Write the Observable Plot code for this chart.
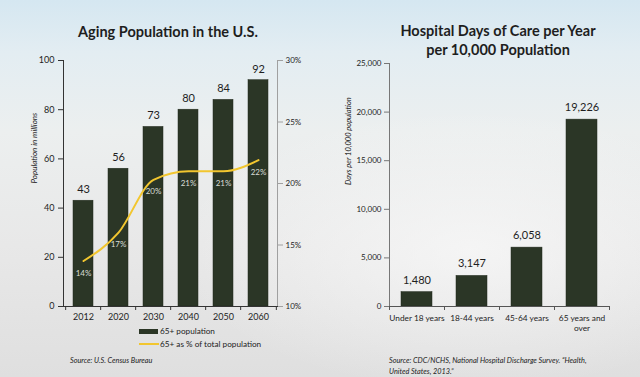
<!DOCTYPE html>
<html><head><meta charset="utf-8">
<script src="https://cdn.jsdelivr.net/npm/d3@7"></script>
<script src="https://cdn.jsdelivr.net/npm/@observablehq/plot@0.6"></script>
<style>
html,body{margin:0;padding:0;}
body{width:640px;height:377px;overflow:hidden;position:relative;font-family:Lato,"Open Sans",sans-serif;color:#1e1e1e;
background:
 radial-gradient(ellipse 420px 200px at 470px 250px, rgba(250,250,250,0.7), rgba(250,250,250,0) 70%),
 linear-gradient(180deg,#d5e7f1 0%,#e3edf2 14%,#ecefef 35%,#e8e8e8 65%,#dfdfdf 100%);}
.abs{position:absolute;}
.title{font-weight:700;font-size:14.5px;line-height:19px;text-align:center;white-space:nowrap;}
.src{font-style:italic;font-size:7.3px;line-height:11px;white-space:nowrap;color:#222;}
.leg{font-size:8.2px;line-height:12px;white-space:nowrap;color:#222;}
</style></head><body>
<div class="abs title" style="left:18px;width:300px;top:22px;">Aging Population in the U.S.</div>
<div class="abs title" style="left:348px;width:300px;top:21px;">Hospital Days of Care per Year<br>per 10,000 Population</div>
<div id="left" class="abs" style="left:0;top:50px;"></div>
<div id="right" class="abs" style="left:320px;top:50px;"></div>
<div class="abs" style="left:139px;top:329px;width:19px;height:5px;background:#2b3626;"></div>
<div class="abs leg" style="left:160px;top:325px;">65+ population</div>
<div class="abs" style="left:139px;top:343px;width:20px;height:2px;background:#f2c62f;"></div>
<div class="abs leg" style="left:160px;top:338px;">65+ as % of total population</div>
<div class="abs src" style="left:70px;top:355px;">Source: U.S. Census Bureau</div>
<div class="abs src" style="left:389px;top:355px;">Source: CDC/NCHS, National Hospital Discharge Survey. “Health,<br>United States, 2013.”</div>
<script>
const years = ["2012","2020","2030","2040","2050","2060"];
const population65 = [43,56,73,80,84,92];
const pct65 = [13.7,16.0,20.3,21.0,21.0,21.9];
const pctLabels = ["14%","17%","20%","21%","21%","22%"];
const popTicks = [0,20,40,60,80,100];
const pctTicks = [10,15,20,25,30];

const ageGroups = ["Under 18 years","18-44 years","45-64 years","65 years and over"];
const ageLabels = ["Under 18 years","18-44 years","45-64 years","65 years and\nover"];
const careDays = [1480,3147,6058,19226];
const careTicks = [0,5000,10000,15000,20000,25000];

const FONT = "Lato, 'Open Sans', sans-serif";
const pctToPop = p => (p - 10) * 5;   // 10%..30% mapped onto 0..100
const popToPct = v => v / 5 + 10;

const popData = years.map((y, i) => ({year: y, pop: population65[i], pct: pct65[i], label: pctLabels[i]}));
const careData = ageGroups.map((g, i) => ({group: g, days: careDays[i]}));

// Left chart
{
  const W = 320, H = 280, mL = 63, mR = 43, mT = 10, mB = 24;
  const step = (W - mL - mR) / years.length;
  const chart = Plot.plot({
    width: W, height: H, marginLeft: mL, marginRight: mR, marginTop: mT, marginBottom: mB,
    style: {background: "transparent", fontFamily: FONT, fontSize: "9px", color: "#222", overflow: "visible"},
    x: {domain: years, paddingInner: 0.44, paddingOuter: 0.22},
    y: {domain: [0, 100]},
    marks: [
      Plot.barY(popData, {x: "year", y: "pop", fill: "#2b3626", stroke: "#222b1e", strokeWidth: 0.5}),
      Plot.line(popData, {x: "year", y: d => pctToPop(d.pct), stroke: "#f2c62f", strokeWidth: 2, curve: "monotone-x"}),
      Plot.text(popData, {x: "year", y: "pop", text: d => String(d.pop), dy: -11, fontSize: 11, fill: "#1e1e1e"}),
      Plot.text(popData, {x: "year", y: d => pctToPop(d.pct), text: "label", dy: 12, fontSize: 8, fill: "#d9ddd5"}),
      Plot.frame({anchor: "left", stroke: "#333"}),
      Plot.frame({anchor: "right", stroke: "#a0a0a0"}),
      Plot.frame({anchor: "bottom", stroke: "#333"}),
      Plot.axisY({ticks: popTicks, tickSize: 5, tickPadding: 4, label: null, stroke: "#333", fill: "#1e1e1e"}),
      Plot.axisY({anchor: "right", ticks: pctTicks.map(pctToPop), tickFormat: d => popToPct(d) + "%",
                  tickSize: 5, tickPadding: 3, label: null, stroke: "#a0a0a0", fill: "#1e1e1e", fontSize: 8}),
      Plot.axisX({tickSize: 0, tickPadding: 7, label: null, fill: "#1e1e1e"}),
      Plot.axisX({tickSize: 4, tickFormat: () => "", dx: -step / 2, label: null, stroke: "#333"}),
      Plot.axisX({ticks: [years[years.length - 1]], tickSize: 4, tickFormat: () => "", dx: step / 2, label: null, stroke: "#333"}),
      Plot.text(["Population in millions"], {frameAnchor: "left", rotate: -90, dx: -29, fontStyle: "italic", fontSize: 8, fill: "#222"})
    ]
  });
  document.getElementById("left").appendChild(chart);
}

// Right chart
{
  const W = 320, H = 280, mL = 69, mR = 31, mT = 13, mB = 24;
  const step = (W - mL - mR) / ageGroups.length;
  const chart = Plot.plot({
    width: W, height: H, marginLeft: mL, marginRight: mR, marginTop: mT, marginBottom: mB,
    style: {background: "transparent", fontFamily: FONT, fontSize: "9px", color: "#222", overflow: "visible"},
    x: {domain: ageGroups, paddingInner: 0.44, paddingOuter: 0.22},
    y: {domain: [0, 25000]},
    marks: [
      Plot.barY(careData, {x: "group", y: "days", fill: "#2b3626", stroke: "#222b1e", strokeWidth: 0.5}),
      Plot.text(careData, {x: "group", y: "days", text: d => d3.format(",")(d.days), dy: -12, fontSize: 11, fill: "#1e1e1e"}),
      Plot.frame({anchor: "left", stroke: "#777"}),
      Plot.frame({anchor: "bottom", stroke: "#555"}),
      Plot.axisY({ticks: careTicks, tickFormat: d3.format(","), tickSize: 5, tickPadding: 3, label: null, stroke: "#777", fill: "#1e1e1e", fontSize: 8}),
      Plot.axisX({tickSize: 0, tickPadding: 7, label: null, fill: "#1e1e1e", fontSize: 8.3, lineHeight: 1.25,
                  tickFormat: d => ageLabels[ageGroups.indexOf(d)]}),
      Plot.axisX({tickSize: 4, tickFormat: () => "", dx: -step / 2, label: null, stroke: "#555"}),
      Plot.axisX({ticks: [ageGroups[ageGroups.length - 1]], tickSize: 4, tickFormat: () => "", dx: step / 2, label: null, stroke: "#555"}),
      Plot.text(["Days per 10,000 population"], {frameAnchor: "left", rotate: -90, dx: -41, fontStyle: "italic", fontSize: 7.5, fill: "#222"})
    ]
  });
  document.getElementById("right").appendChild(chart);
}
</script>
</body></html>
